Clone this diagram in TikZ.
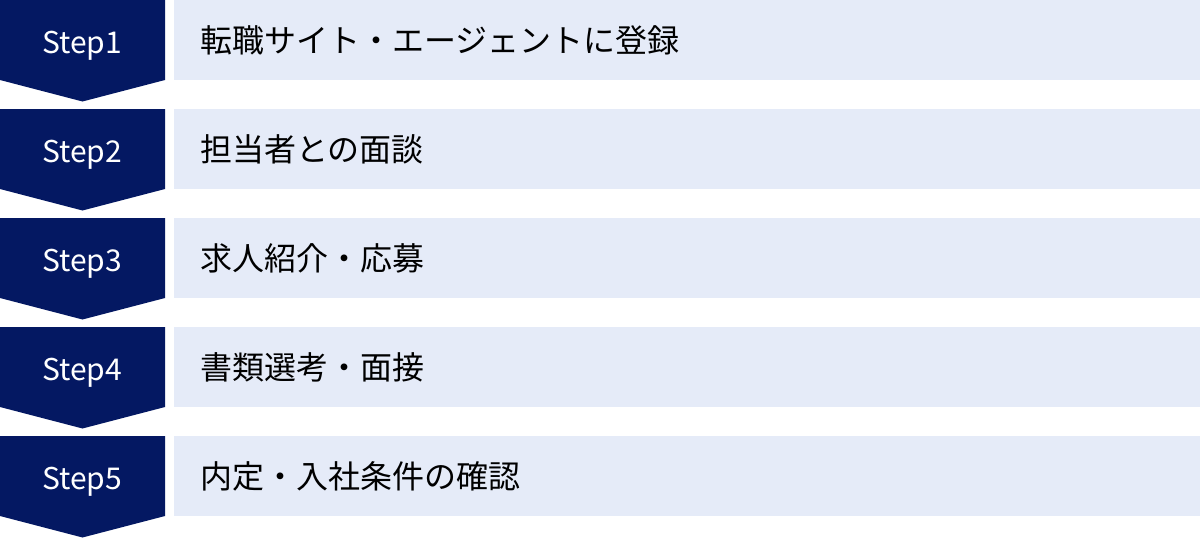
\documentclass[tikz,border=0pt]{standalone}
\usepackage{fontspec}
\setmainfont{Noto Sans CJK JP}
\newfontfamily\jp{Noto Sans CJK JP}
\definecolor{navy}{HTML}{041862}
\definecolor{barbg}{HTML}{E5EBF8}
\tikzset{
  stepshape/.style={fill=navy, draw=none},
  barshape/.style={fill=barbg, draw=none},
  steplabel/.style={text=white, font=\fontsize{30}{30}\selectfont, inner sep=0pt, anchor=base},
  barlabel/.style={text=black, font=\jp\fontsize{32}{32}\selectfont, inner sep=0pt, anchor=west},
}
\begin{document}
\begin{tikzpicture}[x=1pt,y=-1pt]
\useasboundingbox (0,0) rectangle (1200,538);
\foreach \i/\t [count=\n from 0] in {1/転職サイト・エージェントに登録,2/担当者との面談,3/求人紹介・応募,4/書類選考・面接,5/内定・入社条件の確認}{
  \pgfmathsetmacro{\yy}{\n*109}
  \fill[stepshape] (0,\yy) -- (165,\yy) -- (165,\yy+80) -- (82.5,\yy+101.5) -- (0,\yy+80) -- cycle;
  \fill[barshape] (174,\yy) rectangle (1200,\yy+80);
  \node[steplabel] (s\i) at (82,\yy+53.3) {Step\i};
  \node[barlabel] (b\i) at (200,\yy+40) {\t};
}
\end{tikzpicture}
\end{document}
